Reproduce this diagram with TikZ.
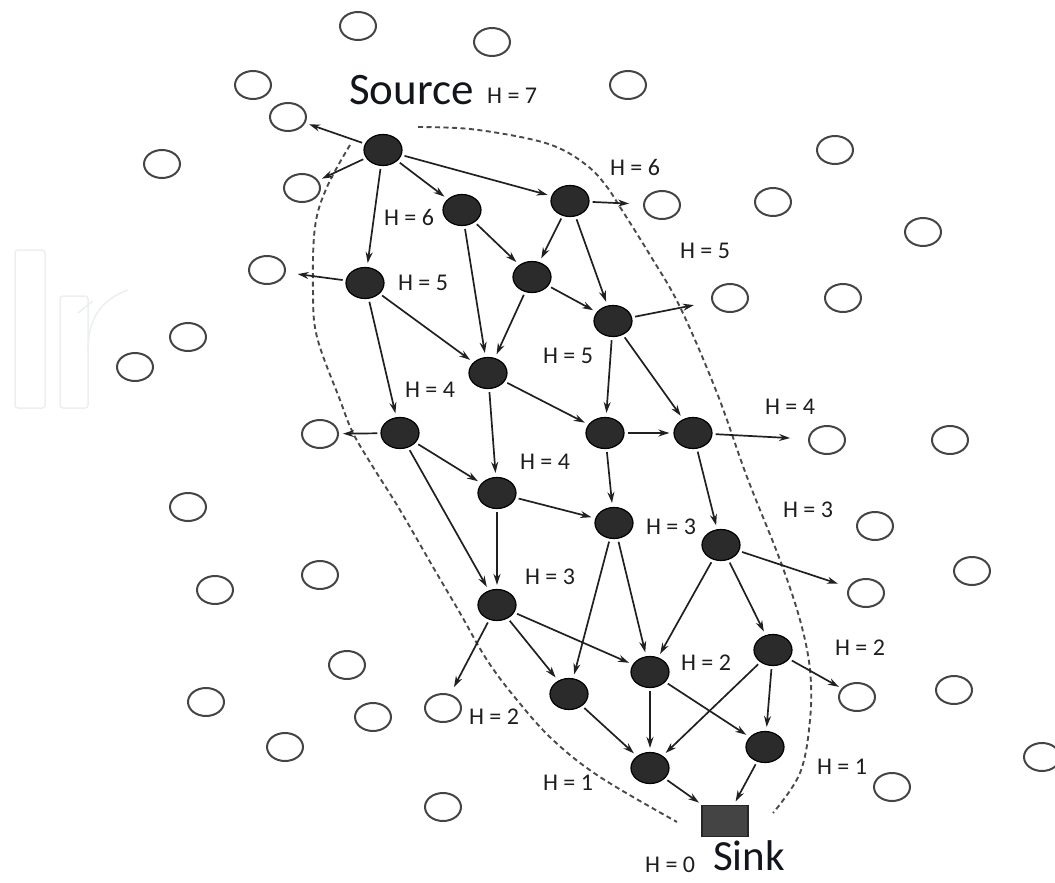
\documentclass[tikz,border=0pt]{standalone}
\usepackage{fontspec}
\setmainfont{Carlito}
\usetikzlibrary{shapes.geometric,arrows.meta}
\definecolor{nodefill}{HTML}{2B2B2B}
\definecolor{ogray}{HTML}{444444}
\definecolor{linec}{HTML}{202020}
\definecolor{dashc}{HTML}{4A4A4A}
\definecolor{labc}{HTML}{1E1E1E}
\definecolor{titc}{HTML}{12151C}
\definecolor{wmark}{HTML}{ECEFEF}
\definecolor{sinkfill}{HTML}{444444}
\newcommand\hlabfont{\fontsize{24}{26}\selectfont}
\newcommand\bigtextfont{\fontsize{45}{48}\selectfont}
\newcommand\sinktextfont{\fontsize{43}{46}\selectfont}
\tikzset{
  fnode/.style={ellipse, draw=black, fill=nodefill, line width=1.2pt, minimum width=38pt, minimum height=31pt, inner sep=0pt},
  onode/.style={ellipse, draw=ogray, line width=2pt, minimum width=36pt, minimum height=28pt, inner sep=0pt},
  sinkbox/.style={rectangle, draw=black!85, fill=sinkfill, line width=1.2pt, minimum width=46pt, minimum height=31pt, inner sep=0pt},
  arr/.style={draw=linec, line width=1.7pt, -{Stealth[length=11pt,width=7pt]}, shorten <=3pt, shorten >=4pt},
  arro/.style={arr, shorten >=8pt},
  hlab/.style={font=\hlabfont, text=labc, inner sep=0pt},
  bigtext/.style={font=\bigtextfont, text=titc, inner sep=0pt, anchor=base west},
  boundary/.style={draw=dashc, line width=1.9pt, dash pattern=on 5pt off 3.5pt},
}
\begin{document}
\begin{tikzpicture}[x=1pt,y=-1pt]
\useasboundingbox (0,0) rectangle (1055,883);
% faint watermark
\draw[wmark, line width=1.5pt, rounded corners=3pt] (15,250) rectangle (45,408);
\draw[wmark, line width=1.5pt, rounded corners=3pt] (60,408) -- (60,296) -- (88,296) -- (88,408) -- cycle;
\draw[wmark, line width=1.5pt] (88,350) .. controls (88,320) and (100,300) .. (128,290);
\draw[wmark, line width=1.5pt] (78,313) -- (93,301);

% dashed boundary
\draw[boundary] plot[smooth, tension=0.6] coordinates {(350,145) (327,187) (315,227) (313,290) (317,337) (340,400) (353,433) (373,467) (400,510) (433,567) (460,613) (487,660) (517,700) (553,740) (600,777) (677,822)};
\draw[boundary] plot[smooth, tension=0.6] coordinates {(418,127) (470,129) (530,139) (563,150) (590,168) (607,187) (620,207) (650,255) (680,307) (717,393) (747,477) (780,560) (800,620) (810,670) (810,720) (800,773) (773,813)};

% open nodes
\foreach \n/\x/\y in {o1/358/26, o2/492/42, o3/253/85, o4/628/85, o5/288/117, o6/162/164, o7/302/188, o8/835/150, o9/662/205, o10/773/202, o11/923/232, o12/267/270, o13/730/298, o14/843/298, o15/188/337, o16/135/367, o17/320/434, o18/827/440, o19/950/440, o20/188/507, o21/875/526, o22/320/575, o23/215/590, o24/972/571, o25/866/593, o26/347/665, o27/206/702, o28/373/717, o29/443/708, o30/857/697, o31/954/690, o32/285/747, o33/1042/757, o34/892/787, o35/443/807}
  \node[onode] (\n) at (\x,\y) {};

% filled nodes
\node[fnode] (S) at (383,150) {};
\node[fnode] (A) at (462,210) {};
\node[fnode] (B) at (570,201) {};
\node[fnode] (C) at (365,283) {};
\node[fnode] (D) at (532,277) {};
\node[fnode] (E) at (613,321) {};
\node[fnode] (F) at (488,373) {};
\node[fnode] (G) at (400,433) {};
\node[fnode] (H) at (605,433) {};
\node[fnode] (I) at (693,433) {};
\node[fnode] (J) at (497,493) {};
\node[fnode] (K) at (614,523) {};
\node[fnode] (L) at (721,545) {};
\node[fnode] (M) at (497,605) {};
\node[fnode] (N) at (773,650) {};
\node[fnode] (O) at (650,672) {};
\node[fnode] (P) at (569,694) {};
\node[fnode] (Q) at (765,747) {};
\node[fnode] (R) at (650,768) {};
\node[sinkbox] (sink) at (725,821) {};

% edges
\draw[arr] (S) -- (o5);
\draw[arr] (S) -- (o7);
\draw[arr] (S) -- (A);
\draw[arr] (S) -- (B);
\draw[arr] (S) -- (C);
\draw[arr] (A) -- (D);
\draw[arr] (A) -- (F);
\draw[arr] (B) -- (D);
\draw[arr] (B) -- (E);
\draw[arro, shorten >=14pt] (B) -- (o9);
\draw[arro, shorten >=12pt] (C) -- (o12);
\draw[arr] (C) -- (F);
\draw[arr] (C) -- (G);
\draw[arr] (D) -- (F);
\draw[arr] (D) -- (E);
\draw[arro, shorten >=18pt] (E) -- (o13);
\draw[arr] (E) -- (H);
\draw[arr] (E) -- (I);
\draw[arr] (F) -- (H);
\draw[arr] (F) -- (J);
\draw[arr] (G) -- (o17);
\draw[arr] (G) -- (J);
\draw[arr] (G) -- (M);
\draw[arr] (H) -- (I);
\draw[arr] (H) -- (K);
\draw[arro, shorten >=18pt] (I) -- (o18);
\draw[arr] (I) -- (L);
\draw[arr] (J) -- (K);
\draw[arr] (J) -- (M);
\draw[arr] (K) -- (P);
\draw[arr] (K) -- (O);
\draw[arr] (L) -- (O);
\draw[arr] (L) -- (N);
\draw[arro, shorten >=11pt] (L) -- (o25);
\draw[arro] (M) -- (o29);
\draw[arr] (M) -- (P);
\draw[arr] (M) -- (O);
\draw[arro, shorten >=3pt] (N) -- (o30);
\draw[arr] (N) -- (R);
\draw[arr] (N) -- (Q);
\draw[arr] (O) -- (R);
\draw[arr] (O) -- (Q);
\draw[arr] (P) -- (R);
\draw[arr] (R) -- (sink);
\draw[arr] (Q) -- (sink);

% labels
\node[bigtext] (srclab) at (349,104) {Source};
\node[hlab, anchor=base west] (h7) at (487,103) {H = 7};
\node[hlab] (h6a) at (635,167) {H = 6};
\node[hlab] (h6b) at (409,217) {H = 6};
\node[hlab] (h5a) at (423,283) {H = 5};
\node[hlab] (h5b) at (705,251) {H = 5};
\node[hlab] (h5c) at (568,356) {H = 5};
\node[hlab] (h4a) at (430,390) {H = 4};
\node[hlab] (h4b) at (545,462) {H = 4};
\node[hlab] (h4c) at (790,407) {H = 4};
\node[hlab] (h3a) at (671,527) {H = 3};
\node[hlab] (h3b) at (808,510) {H = 3};
\node[hlab] (h3c) at (550,577) {H = 3};
\node[hlab] (h2a) at (706,663) {H = 2};
\node[hlab] (h2b) at (860,648) {H = 2};
\node[hlab] (h2c) at (494,717) {H = 2};
\node[hlab] (h1a) at (568,783) {H = 1};
\node[hlab] (h1b) at (842,767) {H = 1};
\node[hlab, anchor=base west] (h0) at (645,872) {H = 0};
\node[bigtext, font=\sinktextfont] (sinklab) at (713,870) {Sink};
\end{tikzpicture}
\end{document}
